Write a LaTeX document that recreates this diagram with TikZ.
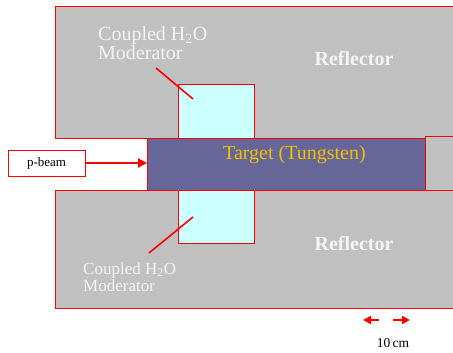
\documentclass[tikz,border=0pt]{standalone}
\usepackage{fontspec}
\setmainfont{Liberation Serif}
\usetikzlibrary{arrows.meta}
\definecolor{refl}{HTML}{C0C0C0}
\definecolor{modc}{HTML}{CCFFFF}
\definecolor{targ}{HTML}{666699}
\definecolor{goldtxt}{HTML}{F0C000}
\definecolor{lbl}{HTML}{F4F4F4}
\begin{document}
\begin{tikzpicture}[x=1pt,y=-1pt,
  edge/.style={draw=red,line width=1pt},
  block/.style={draw=red,line width=1pt,inner sep=0pt,outer sep=0pt,anchor=north west},
  lead/.style={draw=red,line width=1.6pt},
  txt/.style={inner sep=0pt,anchor=base west,align=left}]
\useasboundingbox (0,0) rectangle (453,353);
% reflectors
\fill[refl] (55,7) rectangle (453,138);
\draw[edge] (453,7) -- (55,7) -- (55,138) -- (453,138);
\fill[refl] (55,190) rectangle (453,308);
\draw[edge] (453,190) -- (55,190) -- (55,308) -- (453,308);
% moderators
\node[block,fill=modc,minimum width=76pt,minimum height=53pt] (modup) at (178,85) {};
\node[block,fill=modc,minimum width=76pt,minimum height=53pt] (moddn) at (178,190) {};
% target
\node[block,fill=targ,minimum width=278pt,minimum height=52pt] (target) at (147,138) {};
% small box right
\fill[refl] (425,136) rectangle (453,190);
\draw[edge] (453,136) -- (425,136) -- (425,190) -- (453,190);
% p-beam
\node[block,fill=white,minimum width=77pt,minimum height=26pt,font=\fontsize{13}{15}\selectfont] (pbeam) at (8,150) {p-beam};
\draw[red,line width=2pt,-{Triangle[length=9pt,width=9pt]}] (pbeam.east) -- (target.west |- pbeam.east);
% labels
\node[txt,text=lbl,font=\fontsize{20}{20}\selectfont] (lblup) at (98,60) {Coupled H\textsubscript{2}O\\Moderator};
\node[txt,text=lbl,font=\fontsize{17}{17}\selectfont] (lbldn) at (83,291) {Coupled H\textsubscript{2}O\\Moderator};
\node[inner sep=0pt,anchor=base,text=lbl,font=\fontsize{20}{20}\selectfont\bfseries] (reflup) at (354,66) {Reflector};
\node[inner sep=0pt,anchor=base,text=lbl,font=\fontsize{20}{20}\selectfont\bfseries] (refldn) at (354,250) {Reflector};
\node[txt,text=goldtxt,font=\fontsize{20}{20}\selectfont] (targtxt) at (223,160) {Target (Tungsten)};
% leader lines
\coordinate (lu1) at (156,68); \coordinate (lu2) at (193,99);
\coordinate (ld1) at (149,253); \coordinate (ld2) at (193,217);
\draw[lead] (lu1) -- (lu2);
\draw[lead] (ld1) -- (ld2);
% scale arrows
\coordinate (sl1) at (379,320); \coordinate (sl2) at (363,320);
\coordinate (sr1) at (393,320); \coordinate (sr2) at (410,320);
\draw[red,line width=2pt,-{Triangle[length=8pt,width=8pt]}] (sl1) -- (sl2);
\draw[red,line width=2pt,-{Triangle[length=8pt,width=8pt]}] (sr1) -- (sr2);
\node[inner sep=0pt,anchor=base,font=\fontsize{13.5}{15}\selectfont] (scale) at (393,347) {10\,cm};
\end{tikzpicture}
\end{document}
